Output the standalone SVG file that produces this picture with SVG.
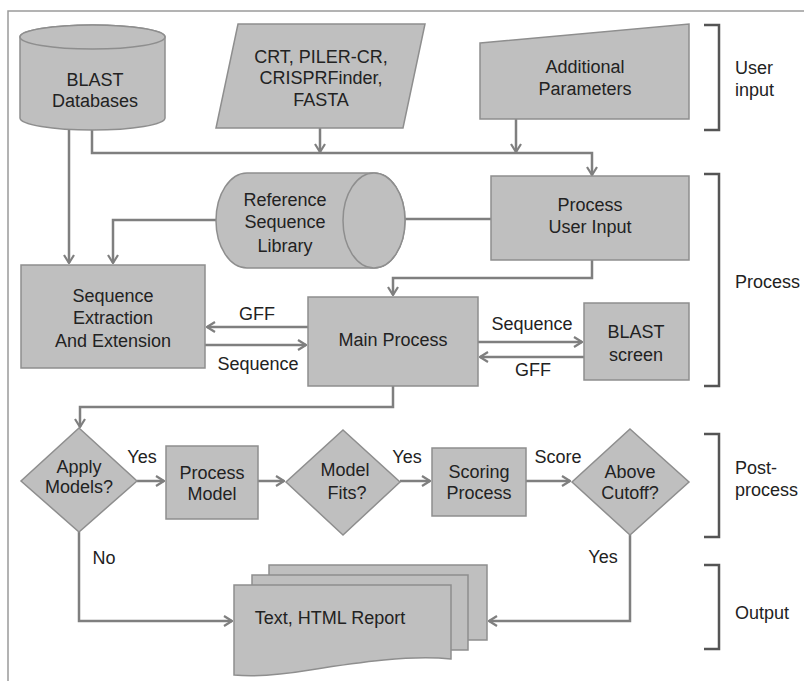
<svg xmlns="http://www.w3.org/2000/svg" width="804" height="681" viewBox="0 0 804 681">
<defs>
<style>
.n{fill:#bfbfbf;stroke:#8e8e8e;stroke-width:1.5}
.t{font-family:"Liberation Sans",Arial,sans-serif;font-size:18px;fill:#222;text-anchor:middle}
.l{font-family:"Liberation Sans",Arial,sans-serif;font-size:18px;fill:#222}
.c{fill:none;stroke:#7f7f7f;stroke-width:2.5;marker-end:url(#ah)}
.p{fill:none;stroke:#7f7f7f;stroke-width:2.5}
.b{fill:none;stroke:#555;stroke-width:2.5}
</style>
<marker id="ah" viewBox="0 0 10 12" refX="9" refY="6" markerWidth="10" markerHeight="12" markerUnits="userSpaceOnUse" orient="auto">
<path d="M1,1 L9,6 L1,11" fill="none" stroke="#7f7f7f" stroke-width="2.2"/>
</marker>
</defs>
<rect x="0" y="0" width="804" height="681" fill="#fff"/>
<rect x="8" y="11" width="800" height="680" fill="none" stroke="#9a9a9a" stroke-width="1.5"/>

<g id="connectors">
<path class="c" d="M69,130 V263"/>
<path class="c" d="M92,130 V153 H592 V175"/>
<path class="c" d="M320,128 V152"/>
<path class="c" d="M516,119 V152"/>
<path class="c" d="M491,219 H374"/>
<path class="c" d="M216,220 H113 V263"/>
<path class="c" d="M592,260 V278 H393 V295"/>
<path class="c" d="M308,327 H207"/>
<path class="c" d="M205,345 H306"/>
<path class="c" d="M478,342 H582"/>
<path class="c" d="M584,357 H480"/>
<path class="c" d="M393,386 V407 H80 V427"/>
<path class="c" d="M137,481 H164"/>
<path class="c" d="M258,481 H284"/>
<path class="c" d="M400,481 H430"/>
<path class="c" d="M526,481 H570"/>
<path class="c" d="M79,532 V621 H232"/>
<path class="c" d="M630,535 V621 H489"/>
<text class="t" x="257" y="320">GFF</text>
<text class="t" x="258" y="370">Sequence</text>
<text class="t" x="532" y="330">Sequence</text>
<text class="t" x="533" y="376">GFF</text>
<text class="t" x="142" y="463">Yes</text>
<text class="t" x="407" y="463">Yes</text>
<text class="t" x="558" y="463">Score</text>
<text class="t" x="104" y="564">No</text>
<text class="t" x="603" y="563">Yes</text>
</g>

<g id="blast-db">
<path class="n" d="M20,37 V118 A72.5,12 0 0 0 165,118 V37 A72.5,12 0 0 0 20,37 Z"/>
<ellipse class="n" cx="92.5" cy="37" rx="72.5" ry="12"/>
<text class="t" x="95" y="86">BLAST</text>
<text class="t" x="95" y="107">Databases</text>
</g>

<g id="crt-input">
<polygon class="n" points="238,24 425,24 403,128 216,128"/>
<text class="t" x="321" y="63">CRT, PILER-CR,</text>
<text class="t" x="321" y="84">CRISPRFinder,</text>
<text class="t" x="321" y="106">FASTA</text>
</g>

<g id="additional-params">
<polygon class="n" points="480,43 689,24 689,119 480,119"/>
<text class="t" x="585" y="73">Additional</text>
<text class="t" x="585" y="95">Parameters</text>
</g>

<g id="process-user-input">
<rect class="n" x="491" y="176" width="198" height="84"/>
<text class="t" x="590" y="211">Process</text>
<text class="t" x="590" y="233">User Input</text>
</g>

<g id="reference-library">
<path class="n" d="M247,173 H374 A31,47.5 0 0 1 374,268 H247 A31,47.5 0 0 1 247,173 Z"/>
<ellipse class="n" cx="374" cy="220.5" rx="31" ry="47.5"/>
<text class="t" x="285" y="206">Reference</text>
<text class="t" x="285" y="228">Sequence</text>
<text class="t" x="285" y="252">Library</text>
</g>

<g id="sequence-extraction">
<rect class="n" x="21" y="265" width="184" height="103"/>
<text class="t" x="113" y="302">Sequence</text>
<text class="t" x="113" y="324">Extraction</text>
<text class="t" x="113" y="347">And Extension</text>
</g>

<g id="main-process">
<rect class="n" x="308" y="297" width="170" height="89"/>
<text class="t" x="393" y="346">Main Process</text>
</g>

<g id="blast-screen">
<rect class="n" x="584" y="303" width="105" height="77"/>
<text class="t" x="636" y="338">BLAST</text>
<text class="t" x="636" y="361">screen</text>
</g>

<g id="apply-models">
<polygon class="n" points="79,428 137,481 79,532 21,481"/>
<text class="t" x="79" y="473">Apply</text>
<text class="t" x="79" y="493">Models?</text>
</g>

<g id="process-model">
<rect class="n" x="166" y="446" width="92" height="73"/>
<text class="t" x="212" y="479">Process</text>
<text class="t" x="212" y="500">Model</text>
</g>

<g id="model-fits">
<polygon class="n" points="343,430 400,482 343,535 286,482"/>
<text class="t" x="345" y="476">Model</text>
<text class="t" x="347" y="499">Fits?</text>
</g>

<g id="scoring-process">
<rect class="n" x="432" y="448" width="94" height="68"/>
<text class="t" x="479" y="478">Scoring</text>
<text class="t" x="479" y="499">Process</text>
</g>

<g id="above-cutoff">
<polygon class="n" points="630,429 689,482 630,535 572,482"/>
<text class="t" x="630" y="478">Above</text>
<text class="t" x="630" y="499">Cutoff?</text>
</g>

<g id="report">
<rect class="n" x="269" y="565" width="218" height="75"/>
<rect class="n" x="252" y="575" width="216" height="75"/>
<path class="n" d="M234,585 H451 V659 C410,655 360,662 310,670 C280,675 255,677 234,675 Z"/>
<text class="t" x="330" y="624">Text, HTML Report</text>
</g>

<g id="brackets">
<path class="b" d="M704,25 H719 V130 H704"/>
<text class="l" x="735" y="74">User</text>
<text class="l" x="735" y="96">input</text>
<path class="b" d="M704,174 H719 V386 H704"/>
<text class="l" x="735" y="288">Process</text>
<path class="b" d="M704,434 H719 V537 H704"/>
<text class="l" x="735" y="474">Post-</text>
<text class="l" x="735" y="496">process</text>
<path class="b" d="M704,565 H719 V649 H704"/>
<text class="l" x="735" y="619">Output</text>
</g>
</svg>
